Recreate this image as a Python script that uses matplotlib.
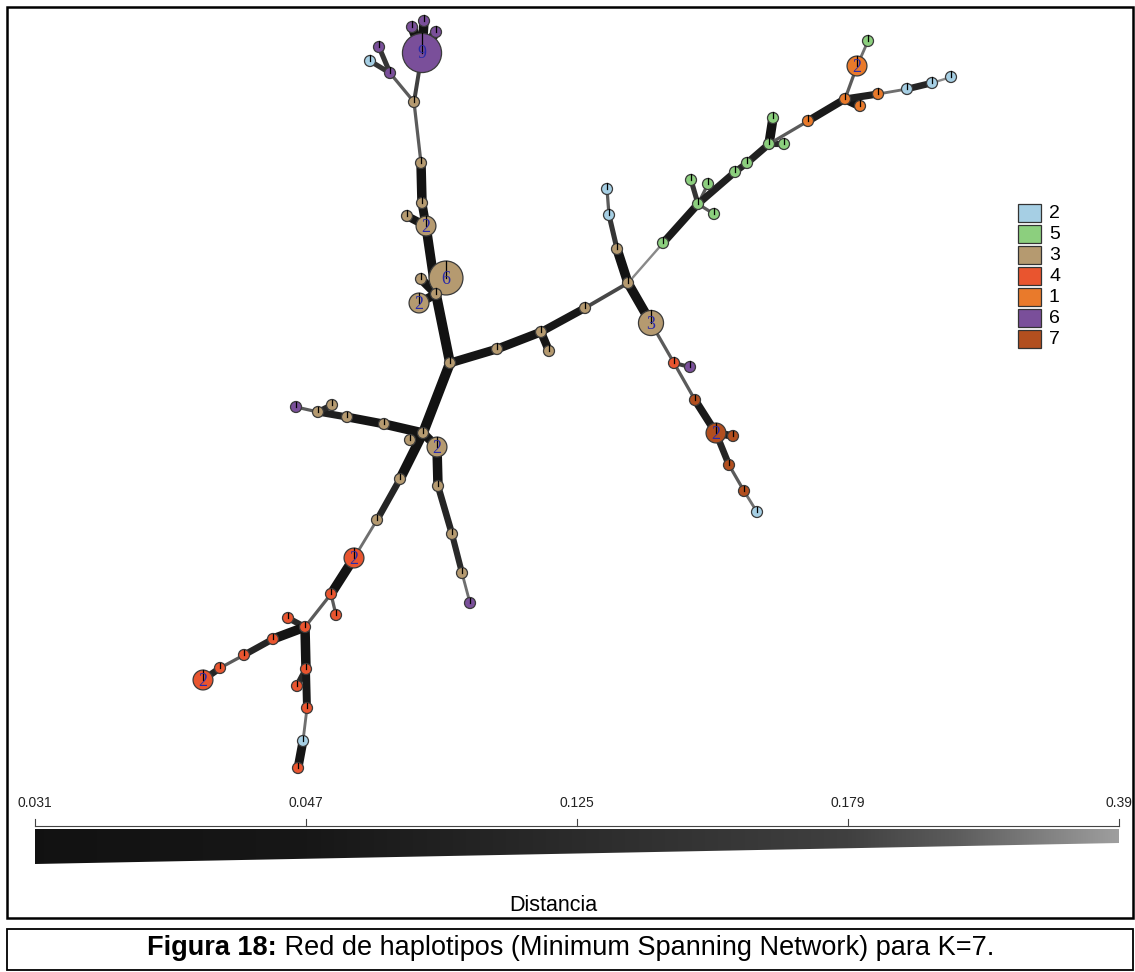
import numpy as np
import matplotlib
matplotlib.use("Agg")
import matplotlib.pyplot as plt
from matplotlib.patches import Circle, Rectangle, Polygon

plt.rcParams["font.family"] = ["Liberation Sans", "DejaVu Sans"]

# Populations (K=7 clusters) in legend order and their fill colours
pop_labels = ["2", "5", "3", "4", "1", "6", "7"]
pop_colors = ["#a6cfe4", "#8ccf7e", "#b59a70", "#e9552f", "#e97a2b", "#7a4f9a", "#b24f1f"]

# Haplotype nodes: layout position (px), population and number of samples
node_x = [422, 412, 424, 436, 379, 370, 390, 414, 421, 422,
          407, 426, 446, 421, 419, 436, 450, 497, 541, 549,
          585, 628, 617, 609, 607, 651, 663, 698, 691, 708,
          714, 735, 747, 769, 773, 784, 808, 845, 860, 857,
          868, 878, 907, 932, 951, 674, 690, 695, 716, 733,
          729, 744, 757, 423, 410, 437, 384, 347, 332, 318,
          296, 438, 452, 462, 470, 400, 377, 354, 331, 336,
          305, 288, 273, 244, 220, 203, 306, 297, 307, 303,
          298]
node_y = [53, 27, 21, 32, 47, 61, 73, 102, 163, 203,
          216, 226, 278, 279, 303, 294, 363, 349, 332, 351,
          308, 283, 249, 215, 189, 323, 243, 204, 180, 184,
          214, 172, 163, 144, 118, 144, 121, 99, 106, 66,
          41, 94, 89, 83, 77, 363, 367, 400, 433, 436,
          465, 491, 512, 433, 440, 447, 424, 417, 405, 412,
          407, 486, 534, 573, 603, 479, 520, 558, 594, 615,
          627, 618, 639, 655, 668, 680, 669, 686, 708, 741,
          768]
node_pop = ["6", "6", "6", "6", "6", "2", "6", "3", "3", "3",
            "3", "3", "3", "3", "3", "3", "3", "3", "3", "3",
            "3", "3", "3", "2", "2", "3", "5", "5", "5", "5",
            "5", "5", "5", "5", "5", "5", "1", "1", "1", "1",
            "5", "1", "2", "2", "2", "4", "6", "7", "7", "7",
            "7", "7", "2", "3", "3", "3", "3", "3", "3", "3",
            "6", "3", "3", "3", "6", "3", "3", "4", "4", "4",
            "4", "4", "4", "4", "4", "4", "4", "4", "4", "2",
            "4"]
node_n = [9, 1, 1, 1, 1, 1, 1, 1, 1, 1,
          1, 2, 6, 1, 2, 1, 1, 1, 1, 1,
          1, 1, 1, 1, 1, 3, 1, 1, 1, 1,
          1, 1, 1, 1, 1, 1, 1, 1, 1, 2,
          1, 1, 1, 1, 1, 1, 1, 1, 2, 1,
          1, 1, 1, 1, 1, 2, 1, 1, 1, 1,
          1, 1, 1, 1, 1, 1, 1, 2, 1, 1,
          1, 1, 1, 1, 1, 2, 1, 1, 1, 1,
          1]

# Minimum spanning network edges and their genetic distance
edge_from = [0, 0, 0, 4, 5, 6, 0, 7, 8, 9,
             10, 11, 12, 13, 14, 15, 16, 16, 17, 18,
             18, 20, 21, 22, 23, 21, 21, 26, 27, 27,
             27, 27, 31, 32, 33, 33, 33, 36, 37, 37,
             39, 37, 41, 42, 43, 25, 45, 45, 47, 48,
             48, 50, 51, 53, 53, 53, 56, 57, 58, 59,
             55, 61, 62, 63, 53, 65, 66, 67, 68, 68,
             70, 70, 72, 73, 74, 70, 76, 76, 78, 79]
edge_to = [1, 2, 3, 6, 6, 7, 7, 8, 9, 11,
           11, 15, 15, 15, 15, 16, 53, 17, 18, 19,
           20, 21, 22, 23, 24, 25, 26, 27, 28, 29,
           30, 31, 32, 33, 34, 35, 36, 37, 38, 39,
           40, 41, 42, 43, 44, 45, 46, 47, 48, 49,
           50, 51, 52, 54, 55, 56, 57, 59, 59, 60,
           61, 62, 63, 64, 65, 66, 67, 68, 69, 70,
           71, 72, 73, 74, 75, 76, 77, 78, 79, 80]
edge_dist = [0.035, 0.035, 0.035, 0.15, 0.15, 0.26, 0.18, 0.26, 0.035, 0.04,
             0.045, 0.035, 0.04, 0.04, 0.04, 0.032, 0.031, 0.04, 0.04, 0.045,
             0.05, 0.2, 0.035, 0.15, 0.26, 0.035, 0.35, 0.06, 0.15, 0.26,
             0.26, 0.08, 0.1, 0.08, 0.035, 0.12, 0.26, 0.06, 0.04, 0.26,
             0.3, 0.08, 0.3, 0.1, 0.35, 0.26, 0.18, 0.26, 0.06, 0.06,
             0.1, 0.26, 0.3, 0.04, 0.04, 0.035, 0.04, 0.08, 0.12, 0.26,
             0.035, 0.1, 0.12, 0.3, 0.033, 0.1, 0.3, 0.035, 0.26, 0.26,
             0.12, 0.035, 0.1, 0.26, 0.1, 0.035, 0.12, 0.05, 0.3, 0.04]

# Distance scale ticks
scale_ticks = [0.031, 0.047, 0.125, 0.179, 0.39]
scale_labels = ["0.031", "0.047", "0.125", "0.179", "0.39"]

W, H = 1135, 972
fig = plt.figure(figsize=(W / 100, H / 100), dpi=100)
ax = fig.add_axes([0, 0, 1, 1])
ax.set_xlim(0, W)
ax.set_ylim(H, 0)
ax.set_aspect("equal")
ax.axis("off")

tick_pos = np.linspace(0, 1, len(scale_ticks))
grey_t = [0.0, 0.25, 0.5, 0.75, 0.85, 1.0]
grey_v = [0.07, 0.09, 0.17, 0.25, 0.36, 0.62]


def dist_to_t(d):
    return np.interp(d, scale_ticks, tick_pos)


def grey(t):
    g = np.interp(t, grey_t, grey_v)
    return (g, g, g)


pop_color = dict(zip(pop_labels, pop_colors))
radius = [5.5 + 6.4 * np.log(n) for n in node_n]

# Edges: thick and dark for close haplotypes, thin and light for distant ones
for a, b, d in zip(edge_from, edge_to, edge_dist):
    t = dist_to_t(d)
    lw_px = 10.0 - 8.0 * t
    ax.plot([node_x[a], node_x[b]], [node_y[a], node_y[b]],
            color=grey(t), lw=lw_px * 0.72, solid_capstyle="butt", zorder=1)

# Nodes drawn as single-slice pies
for x, y, p, n, r in zip(node_x, node_y, node_pop, node_n, radius):
    ax.add_patch(Circle((x, y), r, facecolor=pop_color[p], edgecolor="#3a3a3a",
                        lw=0.9, zorder=3))
    ax.plot([x, x], [y, y - r], color="black", lw=0.9, zorder=4)
    if n > 1:
        ax.text(x, y + 1, str(n), ha="center", va="center", color="#2a2aa8",
                fontsize=13, family=["Liberation Serif", "DejaVu Serif"], zorder=5)

# Legend
for i, (lab, col) in enumerate(zip(pop_labels, pop_colors)):
    y0 = 204 + i * 21
    ax.add_patch(Rectangle((1018, y0), 23, 18, facecolor=col, edgecolor="#333333",
                           lw=0.9, zorder=3))
    ax.text(1049, y0 + 9.5, lab, ha="left", va="center", fontsize=14)

# Distance scale: tapered grey gradient bar
bx0, bx1 = 35, 1119
top, bot_l, bot_r = 829, 864, 843
ax.plot([bx0, bx1], [826, 826], color="#444444", lw=0.8)
for tp, lab in zip(tick_pos, scale_labels):
    xt = bx0 + tp * (bx1 - bx0)
    ax.plot([xt, xt], [819, 826], color="#444444", lw=0.8)
    ax.text(xt, 803, lab, ha="center", va="center", fontsize=10, color="#222222")

grad_t = np.linspace(0, 1, 400)
grad = np.array([grey(t) for t in grad_t])[None, :, :]
img = ax.imshow(grad, extent=[bx0, bx1, bot_l, top], aspect="auto",
                interpolation="bilinear", zorder=2)
wedge = Polygon([(bx0, top), (bx1, top), (bx1, bot_r), (bx0, bot_l)],
                closed=True, facecolor="none", edgecolor="none")
ax.add_patch(wedge)
img.set_clip_path(wedge)
ax.set_xlim(0, W)
ax.set_ylim(H, 0)

ax.text(553, 905, "Distancia", ha="center", va="center", fontsize=15.5)

# Frames around the figure and the caption
ax.add_patch(Rectangle((7, 7), 1126, 911, fill=False, edgecolor="black", lw=1.8))
ax.add_patch(Rectangle((7, 929), 1126, 41, fill=False, edgecolor="black", lw=1.3))

bold = ax.text(147, 948, "Figura 18:", ha="left", va="center", fontsize=19.5,
               fontweight="bold")
ax.annotate(" Red de haplotipos (Minimum Spanning Network) para K=7.",
            xy=(1, 0.5), xycoords=bold, ha="left", va="center", fontsize=19.5)

fig.savefig("out.png", dpi=100)
